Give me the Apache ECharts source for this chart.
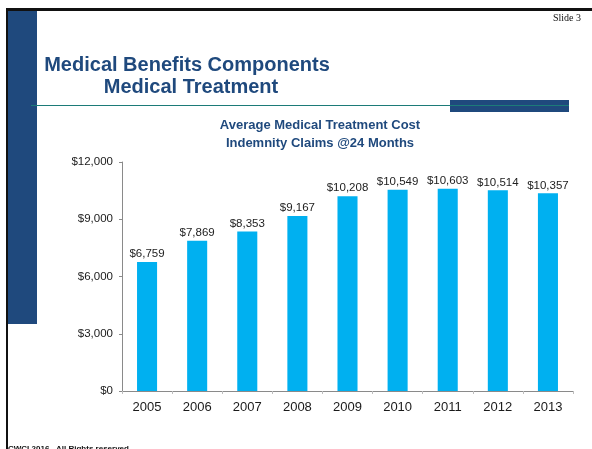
<!DOCTYPE html>
<html>
<head>
<meta charset="utf-8">
<script src="https://cdn.jsdelivr.net/npm/echarts@6/dist/echarts.min.js"></script>
<style>
  html, body { margin: 0; padding: 0; background: #fff; }
  #chart { width: 592px; height: 449px; }
</style>
</head>
<body>
<div id="chart"></div>
<script>
// data
const years = ['2005', '2006', '2007', '2008', '2009', '2010', '2011', '2012', '2013'];
const avgCost = [6759, 7869, 8353, 9167, 10208, 10549, 10603, 10514, 10357];
const yTicks = [0, 3000, 6000, 9000, 12000];

const navy = '#1F497D';
const money = v => '$' + v.toLocaleString('en-US');

const chart = echarts.init(document.getElementById('chart'));

chart.setOption({
    animation: false,
    textStyle: { fontFamily: 'Liberation Sans, Arial, sans-serif' },
    grid: { left: 122, right: 19, top: 162, bottom: 58 },
    xAxis: {
        type: 'category',
        data: years,
        axisLine: { lineStyle: { color: '#8a8a8a', width: 1 } },
        axisTick: { show: true, length: 3, lineStyle: { color: '#bdbdbd' } },
        axisLabel: { color: '#1a1a1a', fontSize: 13, margin: 10 }
    },
    yAxis: {
        type: 'value',
        min: yTicks[0],
        max: yTicks[yTicks.length - 1],
        interval: 3000,
        axisLine: { show: true, lineStyle: { color: '#8a8a8a', width: 1 } },
        axisTick: { show: true, length: 3, lineStyle: { color: '#8a8a8a' } },
        splitLine: { show: false },
        axisLabel: { color: '#1a1a1a', fontSize: 11.5, margin: 9, formatter: money }
    },
    series: [{
        type: 'bar',
        data: avgCost,
        barWidth: '40%',
        itemStyle: { color: '#00B0F0' },
        label: {
            show: true,
            position: 'top',
            distance: 2,
            color: '#222',
            fontSize: 11.5,
            formatter: p => money(p.value)
        }
    }],
    graphic: [
        // slide frame
        { type: 'rect', shape: { x: 6, y: 8, width: 586, height: 3 }, style: { fill: '#111' } },
        { type: 'rect', shape: { x: 6, y: 8, width: 2, height: 441 }, style: { fill: '#111' } },
        { type: 'rect', shape: { x: 8, y: 11, width: 29, height: 313 }, style: { fill: navy } },
        { type: 'rect', shape: { x: 450, y: 100, width: 119, height: 12 }, style: { fill: navy } },
        { type: 'line', shape: { x1: 31, y1: 105.5, x2: 569, y2: 105.5 }, style: { stroke: '#1C7B78', lineWidth: 1 } },
        // headings
        { type: 'text', x: 553, y: 13, style: { text: 'Slide 3', font: '10px "Liberation Serif", serif', fill: '#111' } },
        { type: 'text', x: 187, y: 65, style: { text: 'Medical Benefits Components', font: 'bold 20px "Liberation Sans", Arial, sans-serif', fill: navy, align: 'center', verticalAlign: 'middle' } },
        { type: 'text', x: 191, y: 87, style: { text: 'Medical Treatment', font: 'bold 20px "Liberation Sans", Arial, sans-serif', fill: navy, align: 'center', verticalAlign: 'middle' } },
        { type: 'text', x: 320, y: 125, style: { text: 'Average Medical Treatment Cost', font: 'bold 13px "Liberation Sans", Arial, sans-serif', fill: navy, align: 'center', verticalAlign: 'middle' } },
        { type: 'text', x: 320, y: 143, style: { text: 'Indemnity Claims @24 Months', font: 'bold 13px "Liberation Sans", Arial, sans-serif', fill: navy, align: 'center', verticalAlign: 'middle' } },
        // footer, cut off by the page edge
        { type: 'text', x: 8, y: 445, style: { text: 'CWCI 2016   All Rights reserved', font: 'bold 8px "Liberation Sans", Arial, sans-serif', fill: '#111' } }
    ]
});
</script>
</body>
</html>
